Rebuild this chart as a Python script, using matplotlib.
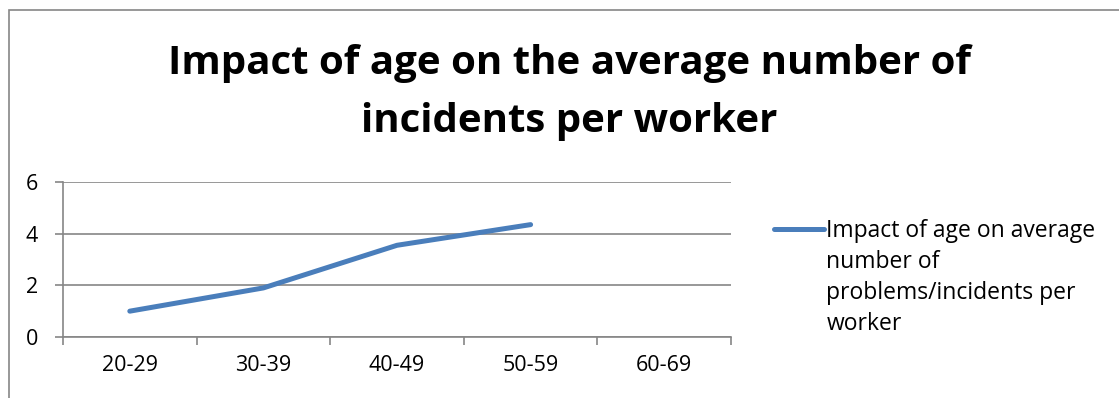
import matplotlib
matplotlib.use("Agg")
import numpy as np
import matplotlib.pyplot as plt
from matplotlib.patches import Rectangle
from matplotlib.legend_handler import HandlerLine2D

plt.rcParams['font.family'] = ['Open Sans', 'DejaVu Sans']

age_groups = ["20-29", "30-39", "40-49", "50-59", "60-69"]
avg_incidents = [1.0, 1.9, 3.55, 4.35]
series_label = "Impact of age on average\nnumber of\nproblems/incidents per\nworker"
title = "Impact of age on the average number of\nincidents per worker"


class TopAlignedLine(HandlerLine2D):
    # put the legend key next to the first line of a multi-line label
    def __init__(self, shift, **kw):
        super().__init__(**kw)
        self.shift = shift

    def create_artists(self, *args, **kwargs):
        arts = super().create_artists(*args, **kwargs)
        for a in arts:
            a.set_ydata(np.asarray(a.get_ydata(), dtype=float) + self.shift)
        return arts


W, H = 1119, 398
fig = plt.figure(figsize=(W / 100, H / 100), dpi=100)

# outer chart frame (runs off the right and bottom edges)
fig.patches.append(Rectangle((8.5 / W, -0.1), 1.2, (H - 10.5) / H + 0.1,
                             transform=fig.transFigure, fill=False,
                             edgecolor="#868686", linewidth=1.2))

ax = fig.add_axes([63 / W, (H - 337) / H, (731 - 63) / W, (337 - 182) / H])

grid_c = "#868686"
x = range(len(avg_incidents))
line, = ax.plot(x, avg_incidents, color="#4a7ebb", linewidth=3.6,
                solid_capstyle="round", label=series_label)

ax.set_xlim(-0.5, len(age_groups) - 0.5)
ax.set_ylim(0, 6)
ax.set_yticks([0, 2, 4, 6])
ax.set_xticks(range(len(age_groups)))
ax.set_xticklabels(age_groups)
ax.set_xticks([i - 0.5 for i in range(len(age_groups) + 1)], minor=True)

for s in ["top", "right"]:
    ax.spines[s].set_visible(False)
for s in ["left", "bottom"]:
    ax.spines[s].set_color(grid_c)
    ax.spines[s].set_linewidth(1.2)

ax.grid(axis="y", color=grid_c, linewidth=1.2)
ax.set_axisbelow(True)
ax.tick_params(axis="x", which="major", length=0, pad=13, labelsize=15.5)
ax.tick_params(axis="x", which="minor", length=6, color=grid_c, width=1.2)
ax.tick_params(axis="y", length=6, color=grid_c, width=1.2, pad=12, labelsize=15.5)

fig.text(569 / W, 1 - 44 / H, title, ha="center", va="top",
         fontsize=29, fontweight="bold", linespacing=1.62)

leg = fig.legend(handles=[line], loc="upper left",
                 bbox_to_anchor=(753 / W, 1 - 198 / H), frameon=False,
                 fontsize=16.5, handlelength=2.2, handletextpad=0.1,
                 handler_map={line: TopAlignedLine(shift=35.5)})
for t in leg.get_texts():
    t.set_linespacing(1.40)

fig.savefig("out.png", dpi=100)
